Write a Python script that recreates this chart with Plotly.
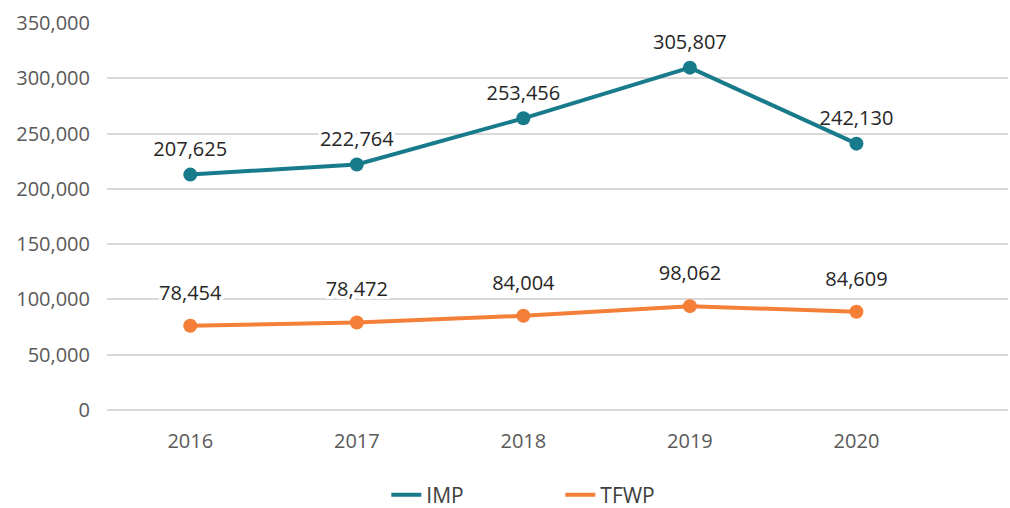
import plotly.graph_objects as go

years = ["2016", "2017", "2018", "2019", "2020"]
imp_values = [212900, 222000, 263800, 309600, 240900]
imp_labels = ["207,625", "222,764", "253,456", "305,807", "242,130"]
tfwp_values = [76200, 79200, 85200, 93900, 88800]
tfwp_labels = ["78,454", "78,472", "84,004", "98,062", "84,609"]

IMP_COLOR = "#187B8B"
TFWP_COLOR = "#F47F38"
FONT = "Open Sans"

xpos = list(range(len(years)))

halo = ", ".join(f"white {dx}px {dy}px 0px" for dx in (-3, -2, -1, 0, 1, 2, 3) for dy in (-3, -2, -1, 0, 1, 2, 3))

fig = go.Figure()
# data labels first so they sit beneath the lines but above the gridlines
for vals, labs, off in [(imp_values, imp_labels, 20), (tfwp_values, tfwp_labels, 32)]:
    fig.add_trace(go.Scatter(x=xpos, y=vals, text=labs, mode="markers+text",
                             textposition="top center",
                             marker=dict(size=off, opacity=0),
                             textfont=dict(family=FONT, size=20, color="#262626", shadow=halo),
                             hoverinfo="skip", showlegend=False))

for name, vals, color in [("IMP", imp_values, IMP_COLOR), ("TFWP", tfwp_values, TFWP_COLOR)]:
    fig.add_trace(go.Scatter(x=xpos, y=vals, name=name, mode="lines+markers",
                             line=dict(color=color, width=4),
                             marker=dict(size=14, color=color), showlegend=False))
    fig.add_trace(go.Scatter(x=[None], y=[None], name=name, mode="lines",
                             line=dict(color=color, width=4), showlegend=True))

fig.update_layout(
    width=1010, height=508,
    margin=dict(l=107, r=2, t=22.5, b=98, autoexpand=False),
    paper_bgcolor="white", plot_bgcolor="white",
    font=dict(family=FONT, size=20, color="#595959"),
    showlegend=True,
    legend=dict(orientation="h", x=0.31, xanchor="left", y=-0.22, yanchor="middle",
                font=dict(family=FONT, size=21, color="#404040"),
                entrywidth=129, entrywidthmode="pixels"),
    xaxis=dict(range=[-0.5, 4.91], tickvals=xpos, ticktext=years, automargin=False,
               showgrid=False, zeroline=False, showline=False,
               ticklabelstandoff=17, tickfont=dict(size=20, color="#595959")),
    yaxis=dict(range=[0, 350000], dtick=50000, tickformat=",", automargin=False,
               showgrid=True, gridcolor="#D9D9D9", gridwidth=2,
               zeroline=True, zerolinecolor="#D9D9D9", zerolinewidth=2, showline=False,
               ticklabelstandoff=16, tickfont=dict(size=20, color="#595959")),
)

fig.write_html("out.html", post_script="document.body.style.margin='0';",
               config={"displayModeBar": False})
